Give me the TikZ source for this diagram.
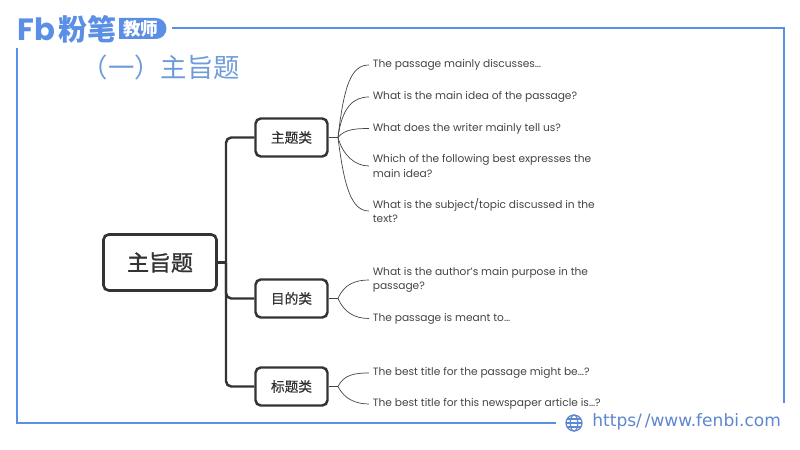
\documentclass[tikz,border=0pt]{standalone}
\usepackage{fontspec}
\setmainfont{Poppins}
\newfontfamily\cjk{Noto Sans CJK SC}
\newfontfamily\cjkmed[FakeBold=0.5]{Noto Sans CJK SC}
\newfontfamily\cjkroot[FakeBold=1.2]{Noto Sans CJK SC}
\newfontfamily\sitefont{DejaVu Sans}
\usetikzlibrary{arrows,shapes.geometric}

\definecolor{fbblue}{HTML}{5B8FE6}
\definecolor{titleblue}{HTML}{6E9CD8}
\definecolor{urlblue}{HTML}{5F86D0}
\definecolor{boxgray}{HTML}{333333}
\definecolor{leafgray}{HTML}{444444}

\tikzset{
  rootbox/.style={draw=boxgray, line width=1.5pt, rounded corners=3pt, minimum width=22.6mm, minimum height=11.2mm, fill=white, font=\cjkroot\fontsize{12.5}{14}\selectfont, text=boxgray},
  catbox/.style={draw=boxgray, line width=1.4pt, rounded corners=3pt, minimum width=14.4mm, minimum height=7.6mm, fill=white, font=\cjkmed\fontsize{7.8}{9}\selectfont, text=boxgray},
  leaftext/.style={anchor=west, align=left, inner sep=2pt, font=\fontsize{6.05}{8}\selectfont, text=leafgray},
  trunkline/.style={draw=boxgray, line width=1.4pt, rounded corners=3pt},
  stubline/.style={draw=leafgray, line width=0.5pt},
  leafline/.style={draw=leafgray, line width=0.4pt},
  frameline/.style={draw=fbblue, line width=0.9pt}
}

\begin{document}
\begin{tikzpicture}[x=0.2mm, y=-0.2mm]
\useasboundingbox (0,0) rectangle (800,450);

% frame
\coordinate (ftop) at (172,28);
\coordinate (ftr) at (784,28);
\coordinate (fbr) at (784,403);
\coordinate (ftl) at (17,48);
\coordinate (fbl) at (17,423);
\coordinate (fend) at (556,423);
\draw [frameline] (ftop) -- (ftr) -- (fbr);
\draw [frameline] (ftl) -- (fbl) -- (fend);

% logo
\node (logofb) [anchor=west, inner sep=0pt, text=fbblue, font=\bfseries\fontsize{17.5}{17.5}\selectfont] at (17,29) {Fb};
\node (logoname) [anchor=west, inner sep=0pt, text=fbblue, font=\cjk\bfseries\fontsize{16.5}{17}\selectfont] at (58,29) {粉笔};
\fill [fbblue] (119,18) -- (156,18) arc (-90:90:10.5) -- (119,39) -- cycle;
\node (logotag) [anchor=west, inner sep=0pt, text=white, font=\cjk\bfseries\fontsize{10}{11}\selectfont] at (123,29) {教师};

% title
\node (title) [anchor=west, inner sep=0pt, text=titleblue, font=\cjk\fontsize{15}{16}\selectfont] at (81.5,67) {（一）主旨题};

% mind map
\node (root) [rootbox] at (160,262.5) {主旨题};
\node (catA) [catbox] at (291.5,137.5) {主题类};
\node (catB) [catbox] at (291.5,298.5) {目的类};
\node (catC) [catbox] at (291.5,386.5) {标题类};

\coordinate (trunk) at (226,262.5);
\draw [trunkline, rounded corners=0pt] (root.east) -- (trunk);
\draw [trunkline] (trunk) |- (catA.west);
\draw [trunkline] (trunk) |- (catB.west);
\draw [trunkline] (trunk) |- (catC.west);

\coordinate (hubA) at (338,137.5);
\coordinate (hubB) at (338,298.5);
\coordinate (hubC) at (338,386.5);
\draw [stubline] (catA.east) -- (hubA);
\draw [stubline] (catB.east) -- (hubB);
\draw [stubline] (catC.east) -- (hubC);

\node (leafA) [leaftext] at (369,65) {The passage mainly discusses…};
\node (leafB) [leaftext] at (369,97) {What is the main idea of the passage?};
\node (leafC) [leaftext] at (369,128.5) {What does the writer mainly tell us?};
\node (leafD) [leaftext] at (369,166) {Which of the following best expresses the\\main idea?};
\node (leafE) [leaftext] at (369,211) {What is the subject/topic discussed in the\\text?};
\node (leafF) [leaftext] at (369,280) {What is the author's main purpose in the\\passage?};
\node (leafG) [leaftext] at (369,318.5) {The passage is meant to…};
\node (leafH) [leaftext] at (369,373) {The best title for the passage might be…?};
\node (leafI) [leaftext] at (369,404) {The best title for this newspaper article is…?};

\draw [leafline] (hubA) .. controls +(6,-52) and +(-18,0) .. (leafA.west);
\draw [leafline] (hubA) .. controls +(4,-30) and +(-16,0) .. (leafB.west);
\draw [leafline] (hubA) .. controls +(6,-8) and +(-14,0) .. (leafC.west);
\draw [leafline] (hubA) .. controls +(5,18) and +(-14,0) .. (leafD.west);
\draw [leafline] (hubA) .. controls +(6,48) and +(-18,0) .. (leafE.west);
\draw [leafline] (hubB) .. controls +(6,-14) and +(-14,0) .. (leafF.west);
\draw [leafline] (hubB) .. controls +(6,14) and +(-14,0) .. (leafG.west);
\draw [leafline] (hubC) .. controls +(6,-12) and +(-14,0) .. (leafH.west);
\draw [leafline] (hubC) .. controls +(6,12) and +(-14,0) .. (leafI.west);

% site
\begin {scope}[shift={(574,423)}, draw=urlblue, line width=0.7pt]
  \draw (0,0) circle (8);
  \draw (0,0) ellipse (3.8 and 8);
  \draw (-8,0) -- (8,0);
  \draw (-7,-4) -- (7,-4);
  \draw (-7,4) -- (7,4);
\end {scope}
\node (site) [anchor=west, inner sep=0pt, text=urlblue, font=\sitefont\fontsize{9.7}{11}\selectfont] at (592,422) {https/\,/www.fenbi.com};
\end{tikzpicture}
\end{document}
